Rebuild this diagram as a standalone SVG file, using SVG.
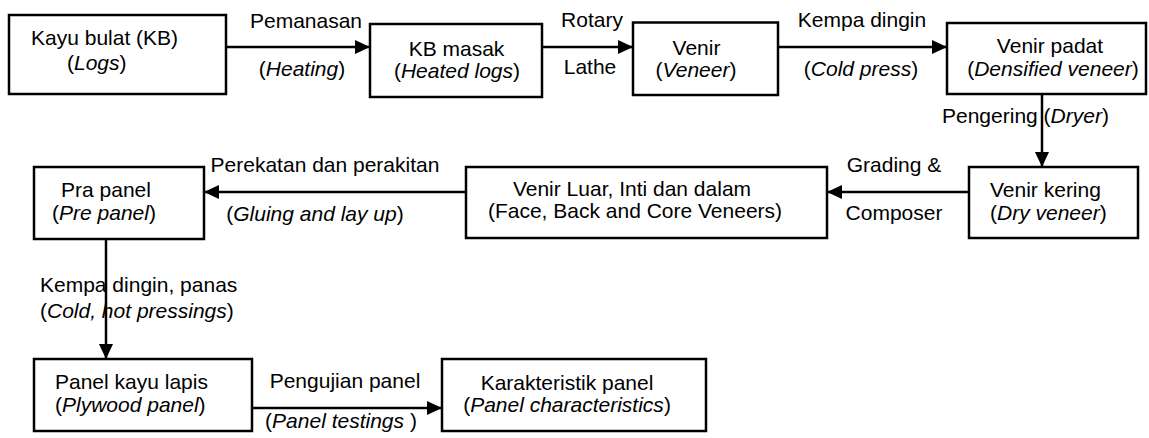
<svg xmlns="http://www.w3.org/2000/svg" width="1149" height="438" viewBox="0 0 1149 438">
<style>
  .box { fill: #ffffff; stroke: #000000; stroke-width: 2.5; }
  .conn { fill: none; stroke: #000000; stroke-width: 2.5; }
  text { font-family: "Liberation Sans", Arial, sans-serif; font-size: 21px; fill: #000000; }
  .m { text-anchor: middle; }
  .i { font-style: italic; }
</style>
<defs>
  <marker id="arrow" markerUnits="userSpaceOnUse" markerWidth="16" markerHeight="15" refX="15" refY="7" orient="auto">
    <path d="M0,0 L15,7 L0,14 Z" fill="#000000"/>
  </marker>
</defs>
<rect x="0" y="0" width="1149" height="438" fill="#ffffff"/>

<g id="connectors">
  <path class="conn" d="M226,47 L370,47" marker-end="url(#arrow)"/>
  <path class="conn" d="M542,47 L633,47" marker-end="url(#arrow)"/>
  <path class="conn" d="M778,47 L947,47" marker-end="url(#arrow)"/>
  <path class="conn" d="M1042,94 L1042,167" marker-end="url(#arrow)"/>
  <path class="conn" d="M969,192 L827,192" marker-end="url(#arrow)"/>
  <path class="conn" d="M466,192 L204,192" marker-end="url(#arrow)"/>
  <path class="conn" d="M106,239 L106,359" marker-end="url(#arrow)"/>
  <path class="conn" d="M252,408 L442,408" marker-end="url(#arrow)"/>
</g>

<g id="labels">
  <text class="m" x="306" y="28">Pemanasan</text>
  <text class="m" x="302" y="76">(<tspan class="i">Heating</tspan>)</text>
  <text class="m" x="592" y="27">Rotary</text>
  <text class="m" x="590" y="74">Lathe</text>
  <text class="m" x="862" y="27">Kempa dingin</text>
  <text class="m" x="861" y="76">(<tspan class="i">Cold press</tspan>)</text>
  <text x="942" y="123">Pengering (<tspan class="i">Dryer</tspan>)</text>
  <text class="m" x="894" y="172">Grading &amp;</text>
  <text class="m" x="894" y="220">Composer</text>
  <text class="m" x="325" y="172">Perekatan dan perakitan</text>
  <text class="m" x="315" y="221">(<tspan class="i">Gluing and lay up</tspan>)</text>
  <text x="40" y="292">Kempa dingin, panas</text>
  <text x="40" y="318">(<tspan class="i">Cold, hot pressings</tspan>)</text>
  <text class="m" x="345" y="388">Pengujian panel</text>
  <text class="m" x="341" y="428">(<tspan class="i">Panel testings </tspan>)</text>
</g>

<g id="node-logs">
  <rect class="box" x="9" y="15" width="217" height="79"/>
  <text x="31" y="45">Kayu bulat (KB)</text>
  <text x="67" y="70">(<tspan class="i">Logs</tspan>)</text>
</g>
<g id="node-heated-logs">
  <rect class="box" x="370" y="24" width="172" height="73"/>
  <text class="m" x="456.5" y="56">KB masak</text>
  <text class="m" x="457" y="78">(<tspan class="i">Heated logs</tspan>)</text>
</g>
<g id="node-veneer">
  <rect class="box" x="633" y="22.5" width="145" height="72.5"/>
  <text class="m" x="696.5" y="55">Venir</text>
  <text class="m" x="696" y="77">(<tspan class="i">Veneer</tspan>)</text>
</g>
<g id="node-densified-veneer">
  <rect class="box" x="947" y="23" width="199" height="71"/>
  <text class="m" x="1050" y="53">Venir padat</text>
  <text class="m" x="1053" y="76">(<tspan class="i">Densified veneer</tspan>)</text>
</g>
<g id="node-dry-veneer">
  <rect class="box" x="969" y="167" width="169" height="71"/>
  <text x="990" y="197">Venir kering</text>
  <text x="990" y="220">(<tspan class="i">Dry veneer</tspan>)</text>
</g>
<g id="node-face-back-core">
  <rect class="box" x="466" y="167" width="361" height="71"/>
  <text class="m" x="632" y="196">Venir Luar, Inti dan dalam</text>
  <text class="m" x="635" y="218">(Face, Back and Core Veneers)</text>
</g>
<g id="node-pre-panel">
  <rect class="box" x="34" y="167" width="170" height="72"/>
  <text class="m" x="106" y="197">Pra panel</text>
  <text class="m" x="104" y="220">(<tspan class="i">Pre panel</tspan>)</text>
</g>
<g id="node-plywood-panel">
  <rect class="box" x="34" y="359" width="218" height="72"/>
  <text x="55" y="389">Panel kayu lapis</text>
  <text x="55" y="412">(<tspan class="i">Plywood panel</tspan>)</text>
</g>
<g id="node-panel-characteristics">
  <rect class="box" x="442" y="359" width="264" height="72"/>
  <text class="m" x="567" y="390">Karakteristik panel</text>
  <text class="m" x="567" y="412">(<tspan class="i">Panel characteristics</tspan>)</text>
</g>
</svg>
